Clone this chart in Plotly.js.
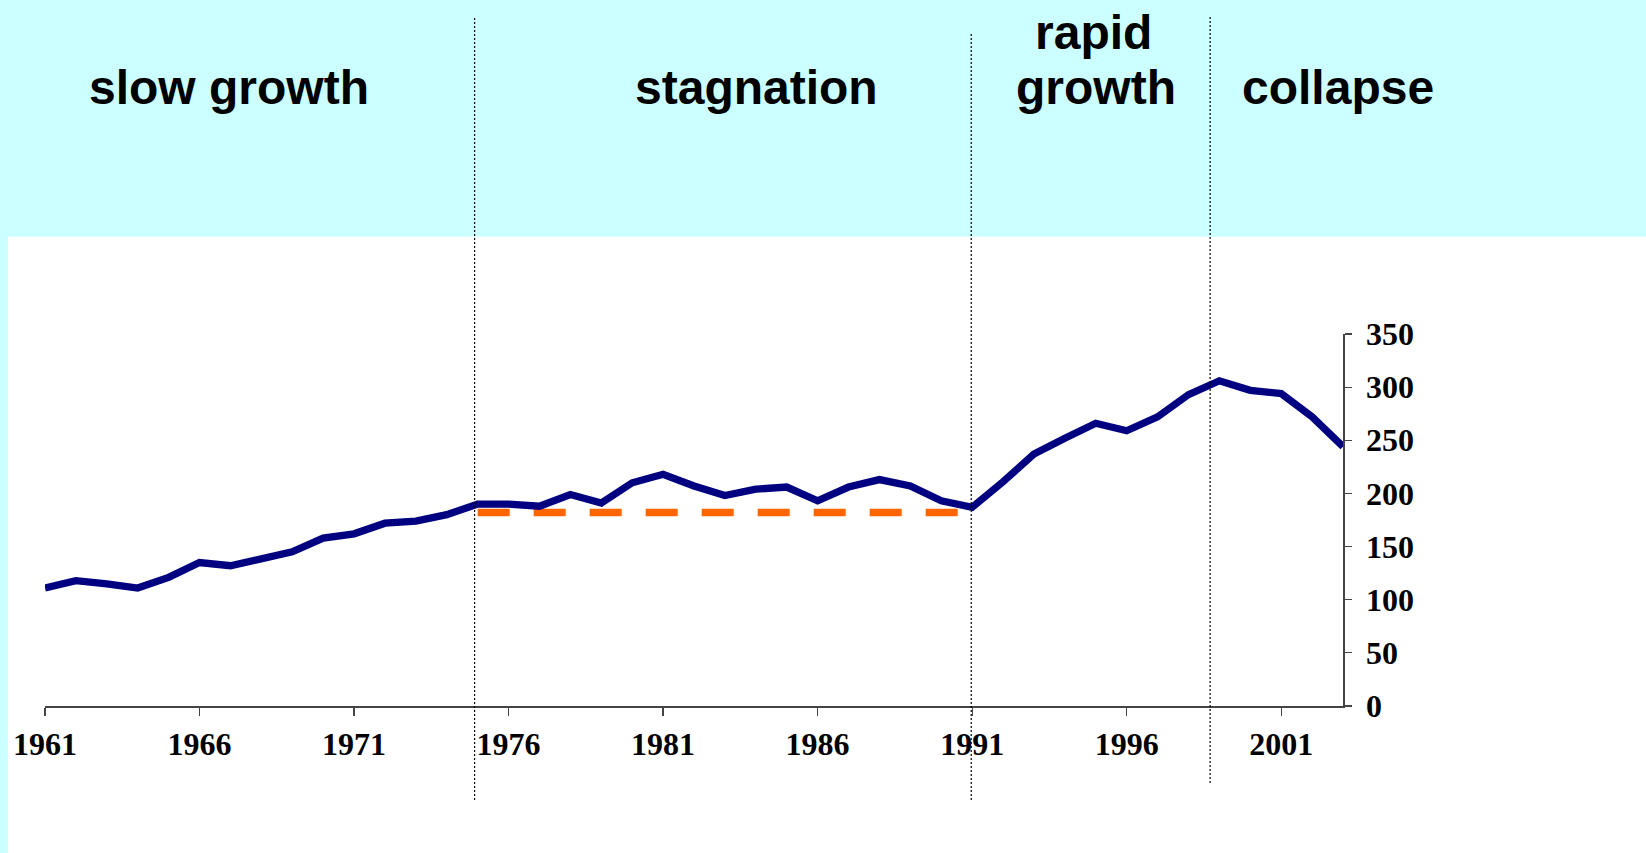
<!DOCTYPE html>
<html>
<head>
<meta charset="utf-8">
<script src="https://cdn.plot.ly/plotly-3.0.1.min.js"></script>
<style>
  html, body { margin: 0; padding: 0; background: #CCFFFF; }
  #chart { width: 1646px; height: 853px; }
</style>
</head>
<body>
<div id="chart"></div>
<script>
// ---- data ----
const years = [1961,1962,1963,1964,1965,1966,1967,1968,1969,1970,
               1971,1972,1973,1974,1975,1976,1977,1978,1979,1980,
               1981,1982,1983,1984,1985,1986,1987,1988,1989,1990,
               1991,1992,1993,1994,1995,1996,1997,1998,1999,2000,
               2001,2002,2003];
const values = [111,118,115,111,121,135,132,138,145,158,
                162,172,174,180,190,190,188,199,191,210,
                218,207,198,204,206,193,206,213,207,193,
                187,211,237,252,266,259,272,293,306,297,
                294,272,244];
const stagYears = [1975, 1991];
const stagLevel = [182, 182];
const xTicks = [1961,1966,1971,1976,1981,1986,1991,1996,2001];
const yTicks = [0,50,100,150,200,250,300,350];
const phaseBounds = [1974.9, 1990.97, 1998.7];
const phaseLabels = ['slow growth', 'stagnation', 'rapid', 'growth', 'collapse'];

// ---- traces ----
const traces = [
  {
    x: stagYears, y: stagLevel, type: 'scatter', mode: 'lines',
    line: { color: '#FF6600', width: 7.5, dash: '32px,24px' },
    hoverinfo: 'skip', cliponaxis: false
  },
  {
    x: years, y: values, type: 'scatter', mode: 'lines',
    line: { color: '#000080', width: 7.3 },
    cliponaxis: false
  }
];

// ---- layout ----
const titleFont = { family: 'Liberation Sans, Arial, sans-serif', size: 48, color: '#000', weight: 'bold' };
const tickFont = { family: 'Liberation Serif, Times New Roman, serif', size: 32, color: '#000', weight: 'bold' };

const annPos = [
  { x: 0.142, y: 1.662 },
  { x: 0.5485, y: 1.662 },
  { x: 0.808, y: 1.810 },
  { x: 0.810, y: 1.662 },
  { x: 0.9961, y: 1.662 }
];
const annotations = phaseLabels.map((t, i) => ({
  text: t, xref: 'paper', yref: 'paper', x: annPos[i].x, y: annPos[i].y,
  xanchor: 'center', yanchor: 'middle', showarrow: false, font: titleFont
}));

const dividerSpans = [[-0.2527, 1.852], [-0.2527, 1.809], [-0.207, 1.852]];
const shapes = [
  { type: 'rect', xref: 'paper', yref: 'paper', x0: -0.0285, x1: 1.30, y0: -0.5, y1: 1.2616,
    fillcolor: '#FFFFFF', line: { width: 0 }, layer: 'below' }
].concat(phaseBounds.map((b, i) => ({
  type: 'line', xref: 'x', yref: 'paper', x0: b, x1: b,
  y0: dividerSpans[i][0], y1: dividerSpans[i][1],
  line: { color: '#000', width: 1.2, dash: '2px,2px' }, layer: 'above'
})));

const layout = {
  width: 1646, height: 853, autosize: false,
  margin: { l: 45, r: 303, t: 334, b: 147, pad: 0 },
  paper_bgcolor: '#CCFFFF',
  plot_bgcolor: 'rgba(0,0,0,0)',
  showlegend: false,
  xaxis: {
    range: [1961, 2003], tickmode: 'array', tickvals: xTicks, ticktext: xTicks.map(String),
    showgrid: false, zeroline: false, showline: true, linecolor: '#444', linewidth: 1.5,
    ticks: 'outside', ticklen: 8, tickcolor: '#444', tickwidth: 1.2,
    tickfont: tickFont, ticklabelstandoff: 1
  },
  yaxis: {
    range: [0, 350], side: 'right', tickmode: 'array', tickvals: yTicks, ticktext: yTicks.map(String),
    showgrid: false, zeroline: false, showline: true, linecolor: '#444', linewidth: 1.5,
    ticks: 'outside', ticklen: 7, tickcolor: '#444', tickwidth: 1.2,
    tickfont: tickFont, ticklabelstandoff: 8
  },
  annotations: annotations,
  shapes: shapes
};

Plotly.newPlot('chart', traces, layout, { displayModeBar: false, staticPlot: true });
</script>
</body>
</html>
